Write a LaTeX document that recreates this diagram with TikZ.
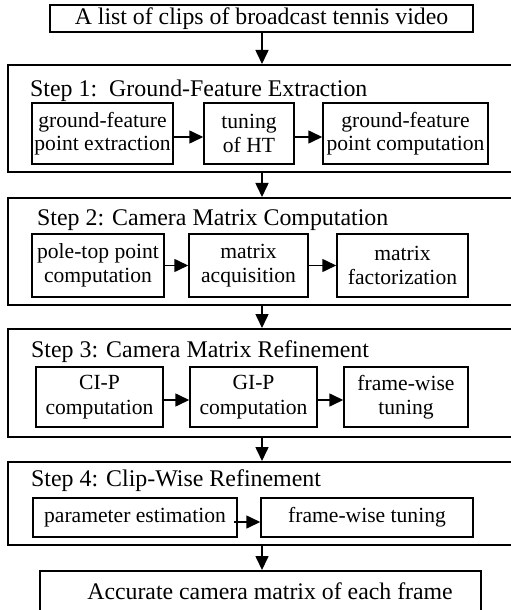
\documentclass[tikz,border=0pt]{standalone}
\usepackage{fontspec}
\setmainfont{Liberation Serif}
\usetikzlibrary{arrows.meta}
\begin{document}
\begin{tikzpicture}[x=1bp,y=-1bp,
  outerbox/.style={draw,line width=2bp,inner sep=0pt},
  innerbox/.style={draw,line width=1.5bp,inner sep=0pt,align=center,
    font=\fontsize{21.6bp}{23.5bp}\selectfont},
  titletext/.style={anchor=base west,inner sep=0pt,font=\fontsize{23.9bp}{26bp}\selectfont},
  bigtext/.style={draw,line width=2bp,inner sep=0pt,font=\fontsize{23.8bp}{26bp}\selectfont},
  arr/.style={line width=1.6bp,-{Triangle[length=14bp,width=13bp]}}]
\useasboundingbox (0,0) rectangle (511,610);
% top
\node[bigtext,minimum width=423bp,minimum height=27bp] (top) at (261.5,18.5) {A list of clips of broadcast tennis video};
% step boxes
\node[outerbox,minimum width=512bp,minimum height=107bp] (s1) at (264,118.5) {};
\node[outerbox,minimum width=512bp,minimum height=107bp] (s2) at (264,251.5) {};
\node[outerbox,minimum width=512bp,minimum height=108bp] (s3) at (264,383) {};
\node[outerbox,minimum width=512bp,minimum height=83bp] (s4) at (264,503.5) {};
% titles
\node[titletext] (t1) at (30,97) {Step 1:\ \ Ground-Feature Extraction};
\node[titletext] (t2) at (37,225) {Step 2: Camera Matrix Computation};
\node[titletext] (t3) at (31,357) {Step 3: Camera Matrix Refinement};
\node[titletext] (t4) at (31,486) {Step 4: Clip-Wise Refinement};
% step 1 inner
\node[innerbox,minimum width=141bp,minimum height=61bp] (a1) at (102.5,133.5) {ground-feature\\point extraction};
\node[innerbox,minimum width=90bp,minimum height=61bp] (a2) at (249,133.5) {tuning\\of HT};
\node[innerbox,minimum width=165bp,minimum height=61bp] (a3) at (405.5,133.5) {ground-feature\\point computation};
% step 2 inner
\node[innerbox,minimum width=132bp,minimum height=63bp] (b1) at (98,265.5) {pole-top point\\computation};
\node[innerbox,minimum width=119bp,minimum height=63bp] (b2) at (248.5,265.5) {matrix\\acquisition};
\node[innerbox,minimum width=131bp,minimum height=63bp] (b3) at (402.5,265.5) {matrix\\factorization};
% step 3 inner
\node[innerbox,minimum width=127bp,minimum height=60bp,font=\fontsize{21.6bp}{24.5bp}\selectfont] (c1) at (99.5,397) {CI-P\\computation};
\node[innerbox,minimum width=127bp,minimum height=60bp,font=\fontsize{21.6bp}{24.5bp}\selectfont] (c2) at (253.5,397) {GI-P\\computation};
\node[innerbox,minimum width=124bp,minimum height=60bp,font=\fontsize{21.6bp}{24.5bp}\selectfont] (c3) at (406,397) {frame-wise\\tuning};
% step 4 inner
\node[innerbox,minimum width=204bp,minimum height=39bp] (d1) at (135,517.5) {parameter estimation};
\node[innerbox,minimum width=212bp,minimum height=39bp] (d2) at (367,517.5) {frame-wise tuning};
% final
\node[bigtext,minimum width=441bp,minimum height=42bp] (fin) at (260.5,592) {};
\node[inner sep=0pt,font=\fontsize{23.8bp}{26bp}\selectfont] (fint) at (270,591) {Accurate camera matrix of each frame};
% vertical arrows
\coordinate (col) at (262,0);
\draw[arr] (top.south -| col) -- (s1.north -| col);
\draw[arr] (s1.south -| col) -- (s2.north -| col);
\draw[arr] (s2.south -| col) -- (s3.north -| col);
\draw[arr] (s3.south -| col) -- (s4.north -| col);
\draw[arr] (s4.south -| col) -- (fin.north -| col);
% horizontal arrows
\draw[arr] ([yshift=-3.5bp]a1.east) -- ([yshift=-3.5bp]a2.west);
\draw[arr] ([yshift=-3.5bp]a2.east) -- ([yshift=-3.5bp]a3.west);
\draw[arr] (b1.east) -- (b2.west);
\draw[arr] (b2.east) -- (b3.west);
\draw[arr] ([yshift=-3bp]c1.east) -- ([yshift=-3bp]c2.west);
\draw[arr] ([yshift=-3bp]c2.east) -- ([yshift=-3bp]c3.west);
\draw[arr] ([yshift=-4.5bp,xshift=-4bp]d1.east) -- ([yshift=-4.5bp]d2.west);
\end{tikzpicture}
\end{document}
